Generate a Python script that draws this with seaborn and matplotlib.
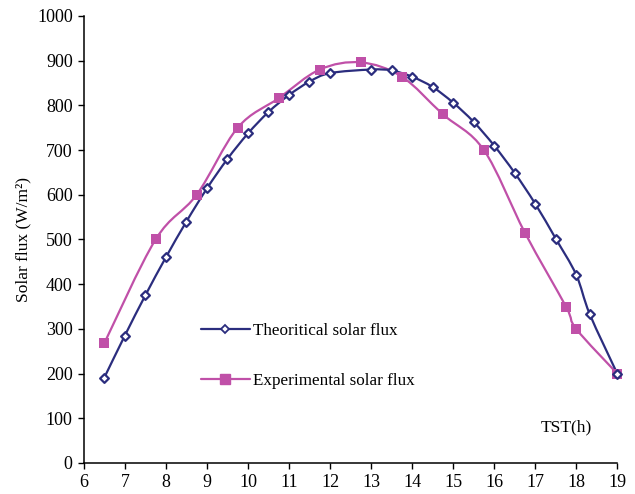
import numpy as np
import pandas as pd
import seaborn as sns
import matplotlib
matplotlib.use("Agg")
import matplotlib.pyplot as plt
from matplotlib.path import Path
from matplotlib.patches import PathPatch
from matplotlib.lines import Line2D

# ---- data ----
theo_time = [6.5, 7, 7.5, 8, 8.5, 9, 9.5, 10, 10.5, 11, 11.5, 12, 13, 13.5, 14,
             14.5, 15, 15.5, 16, 16.5, 17, 17.5, 18, 18.33, 19]
theo_flux = [191, 285, 375, 460, 540, 614, 680, 737, 785, 823, 853, 872, 880, 878, 864,
             841, 806, 763, 710, 649, 580, 502, 421, 333, 200]
exp_time = [6.5, 7.75, 8.75, 9.75, 10.75, 11.75, 12.75, 13.75, 14.75, 15.75, 16.75,
            17.75, 18, 19]
exp_flux = [268, 500, 600, 750, 816, 880, 896, 864, 780, 700, 515, 350, 300, 200]
theo_label = "Theoritical solar flux"
exp_label = "Experimental solar flux"
x_ticks = list(range(6, 20))
y_ticks = list(range(0, 1001, 100))

navy = "#2B2D7E"
pink = "#C050A8"

sns.set_theme(style="ticks")
plt.rcParams["font.family"] = ["Liberation Serif", "DejaVu Serif"]
plt.rcParams["text.color"] = "black"
plt.rcParams["axes.labelcolor"] = "black"
plt.rcParams["xtick.color"] = "black"
plt.rcParams["ytick.color"] = "black"

fig = plt.figure(figsize=(6.35, 4.94), dpi=100)
ax = fig.add_axes([0.132, 0.0628, 0.840, 0.905])


def smooth_path(xs, ys):
    pts = np.column_stack([xs, ys]).astype(float)
    n = len(pts)
    verts = [pts[0]]
    codes = [Path.MOVETO]
    for i in range(n - 1):
        p0 = pts[i - 1] if i > 0 else pts[i]
        p1 = pts[i]
        p2 = pts[i + 1]
        p3 = pts[i + 2] if i + 2 < n else pts[i + 1]
        c1 = p1 + (p2 - p0) / 6.0
        c2 = p2 - (p3 - p1) / 6.0
        verts += [c1, c2, p2]
        codes += [Path.CURVE4] * 3
    return Path(verts, codes)


ax.add_patch(PathPatch(smooth_path(exp_time, exp_flux), facecolor="none",
                       edgecolor=pink, lw=1.6, zorder=2, clip_on=False))
ax.add_patch(PathPatch(smooth_path(theo_time, theo_flux), facecolor="none",
                       edgecolor=navy, lw=1.6, zorder=3, clip_on=False))

df_t = pd.DataFrame({"t": theo_time, "f": theo_flux})
df_e = pd.DataFrame({"t": exp_time, "f": exp_flux})
sns.scatterplot(data=df_e, x="t", y="f", ax=ax, marker="s", s=42, color=pink,
                edgecolor=pink, linewidth=0, zorder=4, clip_on=False)
sns.scatterplot(data=df_t, x="t", y="f", ax=ax, marker="D", s=20, facecolor="white",
                edgecolor=navy, linewidth=1.6, zorder=5, clip_on=False)

ax.set_xlim(6, 19)
ax.set_ylim(0, 1000)
ax.set_xticks(x_ticks)
ax.set_yticks(y_ticks)
ax.tick_params(axis="both", direction="out", length=4, width=1, colors="black",
               labelsize=13, pad=4)
for s in ["top", "right"]:
    ax.spines[s].set_visible(False)
for s in ["left", "bottom"]:
    ax.spines[s].set_color("black")
    ax.spines[s].set_linewidth(1.1)

ax.set_xlabel("")
ax.set_ylabel("Solar flux (W/m\u00b2)", fontsize=12.5, labelpad=4, color="black")
ax.text(17.75, 80, "TST(h)", fontsize=12.5, ha="center", va="center", color="black")

handles = [
    Line2D([], [], color=navy, lw=1.6, marker="D", markersize=4.5,
           markerfacecolor="white", markeredgecolor=navy, markeredgewidth=1.3),
    Line2D([], [], color=pink, lw=1.6, marker="s", markersize=6.5,
           markerfacecolor=pink, markeredgecolor=pink),
]
leg = ax.legend(handles, [theo_label, exp_label], loc="center left",
                bbox_to_anchor=(0.19, 0.24), frameon=False, fontsize=12.3,
                handlelength=2.9, handletextpad=0.15, labelspacing=2.0)
for t in leg.get_texts():
    t.set_color("black")

fig.savefig("out.png", dpi=100, facecolor="white")
